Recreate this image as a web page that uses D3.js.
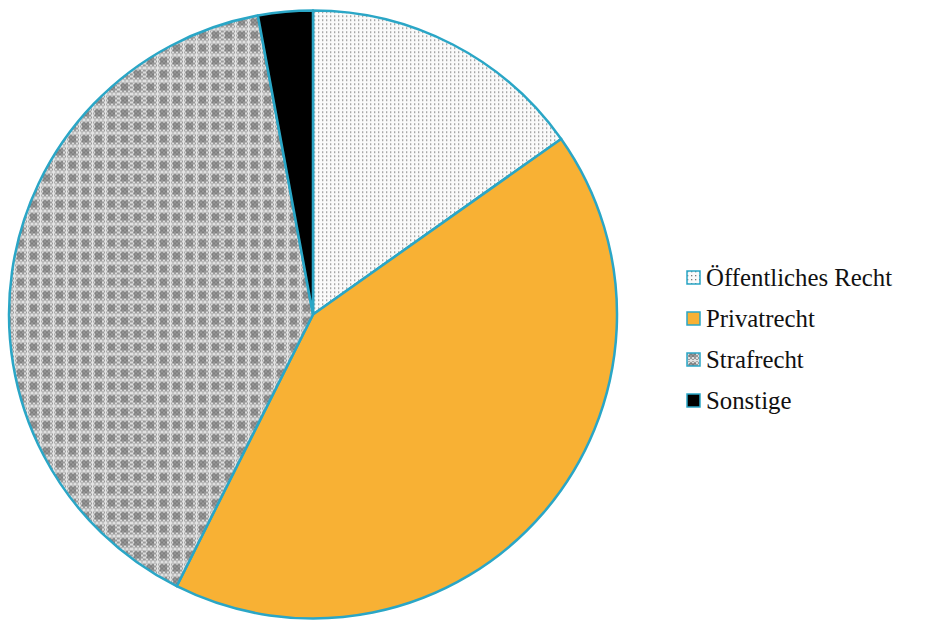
<!DOCTYPE html>
<html><head><meta charset="utf-8">
<script src="https://cdn.jsdelivr.net/npm/d3@7"></script>
<style>body{margin:0;background:#fff}svg{display:block}</style>
</head><body>
<svg id="c" width="930" height="621"></svg>
<script>
const categories = ["Öffentliches Recht", "Privatrecht", "Strafrecht", "Sonstige"];
const values = [15.2, 42.2, 39.7, 2.9];

const svg = d3.select("#c");
const defs = svg.append("defs");

// dotted pattern
const p1 = defs.append("pattern").attr("id","dots").attr("patternUnits","userSpaceOnUse").attr("width",4).attr("height",4);
p1.append("rect").attr("width",4).attr("height",4).attr("fill","#fafafa");
p1.append("rect").attr("x",1).attr("y",1).attr("width",1.3).attr("height",1.3).attr("fill","#7a7a7a");

// checker pattern
const p3 = defs.append("pattern").attr("id","check").attr("patternUnits","userSpaceOnUse").attr("width",13).attr("height",13);
p3.append("rect").attr("width",13).attr("height",13).attr("fill","#9a9a9a");
for (let i=0;i<13;i+=2) for (let j=0;j<13;j+=2) {
  if (((i+j)/2)%2===0) p3.append("rect").attr("x",i).attr("y",j).attr("width",2).attr("height",2).attr("fill","#dcdcdc");
}
p3.append("rect").attr("x",3).attr("y",3).attr("width",7).attr("height",7).attr("fill","#6a6a6a").attr("opacity",0.6);
p3.append("rect").attr("x",0).attr("y",0).attr("width",13).attr("height",1.2).attr("fill","#e4e4e4");
p3.append("rect").attr("x",0).attr("y",0).attr("width",1.2).attr("height",13).attr("fill","#e4e4e4");

const fills = ["url(#dots)", "#f8b134", "url(#check)", "#000000"];
const color = d3.scaleOrdinal().domain(categories).range(fills);

const cx = 313, cy = 314.5, r = 304;
const pie = d3.pie().sort(null).value(d => d.v);
const arcs = pie(categories.map((c,i)=>({c, v: values[i]})));
const arc = d3.arc().innerRadius(0).outerRadius(r);

const g = svg.append("g").attr("transform",`translate(${cx},${cy})`);
g.selectAll("path").data(arcs).join("path")
  .attr("d", arc)
  .attr("fill", d => color(d.data.c))
  .attr("stroke", "#2aa6c6")
  .attr("stroke-width", 2.5)
  .attr("stroke-linejoin","round");

// legend
const lg = svg.append("g").attr("transform","translate(686,278)");
const row = lg.selectAll("g").data(categories).join("g")
  .attr("transform",(d,i)=>`translate(0,${i*41})`);
row.append("rect").attr("x",1).attr("y",-7).attr("width",13).attr("height",13)
  .attr("fill", d => color(d)).attr("stroke","#2aa6c6").attr("stroke-width",1.5);
row.append("text").attr("x",20).attr("y",8)
  .attr("font-family","'Liberation Serif','Times New Roman',serif")
  .attr("font-size",24.8).attr("fill","#111")
  .text(d=>d);
</script>
</body></html>
